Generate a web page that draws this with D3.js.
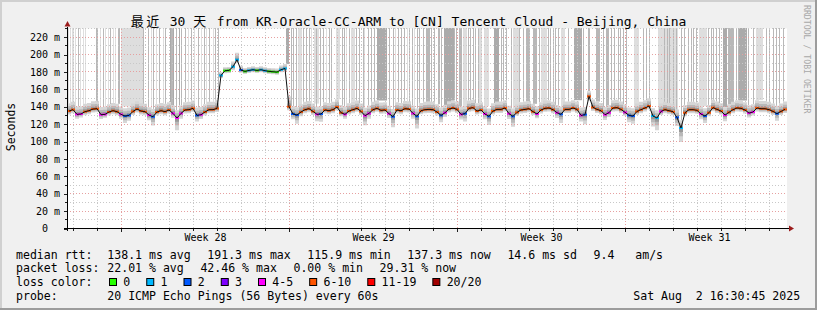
<!DOCTYPE html>
<html>
<head>
<meta charset="utf-8">
<script src="https://cdn.jsdelivr.net/npm/d3@7"></script>
<style>
body { margin: 0; background: #f0f0f0; }
svg { display: block; }
text { font-family: "DejaVu Sans Mono", "Noto Sans CJK SC", monospace; white-space: pre; }
</style>
</head>
<body>
<div id="frame"></div>
<script>
// ---- data (one value per 4 hour step, 30 days) ----
const stepHours = 4;

// median rtt in ms
const median = [
  135.0,136.6,131.2,131.6,134.3,135.4,137.3,137.7,130.8,131.2,
  133.9,135.4,134.3,131.2,129.3,130.0,134.6,137.3,135.0,134.3,
  130.4,128.5,133.9,135.4,134.3,136.2,132.3,127.0,132.3,136.2,
  136.6,138.1,130.0,130.8,133.9,136.6,136.6,138.0,176.0,181.4,
  181.7,186.0,194.0,182.1,180.6,
  181.7,182.5,181.7,182.5,181.4,180.6,180.2,179.8,182.5,184.0,
  140.0,131.6,130.4,133.9,136.6,137.7,134.6,131.2,131.6,136.2,
  135.4,136.6,139.6,133.1,131.2,135.0,136.6,138.1,134.6,129.7,
  132.3,136.6,138.1,135.8,136.2,132.0,128.5,136.2,135.4,137.7,
  137.3,132.3,128.9,135.4,136.6,
  136.9,136.6,133.9,130.0,133.1,137.3,138.5,136.9,131.2,132.0,
  138.1,138.9,135.0,136.2,131.6,128.9,135.0,136.9,136.9,138.5,
  132.0,128.9,133.5,136.2,136.9,137.7,134.3,131.6,136.2,138.1,
  138.5,136.6,133.1,131.2,136.9,136.9,138.5,136.9,130.0,130.8,
  151.9,139.2,136.9,135.4,130.8,
  133.1,138.5,138.9,136.9,133.5,130.0,129.3,134.6,136.6,138.5,
  140.8,129.3,127.0,134.6,136.6,135.4,134.3,127.7,115.5,133.1,
  136.6,136.6,135.8,131.6,129.3,133.1,138.9,136.9,135.0,130.4,
  133.5,136.6,138.5,138.1,136.2,132.7,133.9,138.5,137.7,137.7,
  136.6,134.6,132.0,134.6,136.9
];

// loss bucket index into lossNames
const lossBucket = [
  5,5,4,4,5,5,5,5,4,4, 5,5,5,4,2,2,5,5,5,5, 4,2,5,5,5,5,4,4,4,5, 5,5,2,4,5,5,5,5,1,0, 0,1,1,2,0,
  1,1,0,1,1,0,0,0,1,1, 5,2,2,5,5,5,5,4,2,5, 5,5,5,5,4,5,5,5,5,4, 4,5,5,5,5,4,2,5,5,5, 5,4,2,5,5,
  5,5,5,2,4,5,5,5,4,2, 5,5,5,5,4,2,5,5,5,5, 4,2,5,5,5,5,5,4,5,5, 5,5,4,2,5,5,5,5,4,2, 5,5,5,5,4,
  4,5,5,5,4,2,2,5,5,5, 5,1,1,4,5,5,5,2,1,5, 5,5,5,4,2,5,5,5,5,4, 5,5,5,5,5,4,4,5,5,5, 5,5,2,5,5
];

// smoke spread below / above the median (ms)
const smokeDown = [
  4,4,5,4,4,4,4,4,5,4, 4,4,4,5,8,6,4,4,4,4, 6,10,4,4,4,4,5,14,6,4, 4,4,7,5,4,4,4,4,3,3, 3,4,4,3,3,
  3,3,3,3,3,3,3,3,3,3, 4,6,10,5,4,4,4,8,9,4, 4,4,4,4,5,4,4,4,4,11, 6,4,4,4,4,5,12,4,4,4, 4,6,14,4,4,
  4,4,4,8,5,4,4,4,6,9, 4,4,4,4,6,10,4,4,4,4, 6,12,4,4,4,4,4,5,4,4, 4,4,6,10,4,4,4,4,7,11, 5,4,4,4,6,
  5,4,4,4,4,8,9,4,4,4, 4,12,14,4,4,4,4,10,16,4, 4,4,4,6,8,4,4,4,4,7, 4,4,4,4,4,5,4,4,4,4, 4,4,8,4,4
];
const smokeUp = [
  9,9,9,9,9,9,9,9,9,9, 9,9,9,9,9,9,9,9,9,9, 9,9,9,9,9,9,9,9,9,9, 9,9,9,9,9,9,9,10,4,4, 4,6,8,5,4,
  4,4,4,4,4,4,4,4,5,5, 12,9,9,9,9,9,9,9,9,9, 9,9,9,9,9,9,9,9,9,9, 9,9,9,9,9,9,9,9,9,9, 9,9,9,9,9,
  9,9,9,9,9,9,9,9,9,9, 9,9,9,9,9,9,9,9,9,9, 9,9,9,9,9,9,9,9,9,9, 9,9,9,9,9,9,9,9,9,9, 6,9,9,9,9,
  9,9,9,9,9,9,9,9,9,9, 9,9,9,9,9,9,9,9,9,9, 9,9,9,9,9,9,9,9,9,9, 9,9,9,9,9,9,9,9,9,9, 9,9,9,9,9
];

// smoke columns running off the top: [start hour, width in hours, shade 1..3]
const spikes = [
  [1,1,1],[3,1,1],[5,2,1],[8,1,1],[11,1,2],[13,1,1],[16,1,1],[18,1,1],
  [29,2,2],[33,1,1],[36,1,2],[38,1,1],[41,1,1],[43,1,2],[46,1,1],[48,1,1],[51,2,2],
  [54,23,1],[76,1,2],[81,1,2],[84,1,1],[86,1,2],[89,1,1],[92,1,2],[96,1,1],[98,1,2],
  [103,1,3],[104,2,2],[106,1,3],[109,1,2],[112,1,3],[114,1,2],
  [118,1,2],[121,1,1],[124,1,2],[127,1,1],[131,1,2],[134,1,1],[137,1,2],[139,1,1],
  [142,1,2],[146,1,1],[148,1,2],[151,1,2],
  [219,3,3],[224,1,2],[226,1,2],[229,1,2],[231,4,1],[236,1,2],[239,1,2],[242,1,2],
  [244,1,1],[247,5,1],[249,1,2],[253,1,2],[256,1,2],[259,1,1],[262,1,2],[264,1,2],
  [269,4,1],[275,1,2],[277,1,2],[279,1,1],[282,1,2],[284,4,1],[289,1,2],[292,1,2],
  [296,1,2],[297,1,1],[301,1,2],[304,1,2],[307,1,2],[310,10,3],[322,1,2],[326,1,2],
  [328,1,1],[331,1,2],[334,1,2],[337,1,2],[340,1,1],[342,1,2],[345,1,2],[347,1,1],
  [350,1,2],[352,1,2],[356,1,2],[359,4,2],
  [364,1,2],[367,1,2],[371,2,2],[374,1,2],[377,10,3],[387,1,2],[389,1,2],[392,3,2],
  [396,4,1],[401,1,2],[403,1,2],[406,1,2],[408,1,2],[411,1,2],[412,3,1],[417,5,1],
  [427,5,3],[434,1,2],[436,1,2],[439,1,2],[444,1,2],[446,6,1],[452,1,2],[456,1,2],
  [459,4,2],[466,4,2],[472,1,2],[474,6,1],[481,1,2],[483,1,2],[486,1,2],[488,1,2],
  [491,1,2],[494,4,1],[501,1,2],[507,8,3],[516,1,2],[521,2,2],[529,4,2],[536,1,2],
  [539,3,2],[544,1,2],[547,1,2],[551,1,2],[553,1,2],[556,1,2],[559,1,2],[567,5,1],
  [576,1,2],[579,1,2],[582,1,2],[591,20,1],[597,1,2],[600,1,2],[602,1,2],[606,1,2],
  [609,1,2],[614,1,2],[617,1,2],[621,1,2],[624,1,2],[626,1,2],[629,1,2],[632,8,1],
  [641,1,2],[644,1,2],[646,1,2],[649,1,2],[652,1,2],[656,4,3],[661,6,2],[669,1,2],
  [671,1,2],[672,8,3],[681,1,2],[686,1,2],[689,7,1],[699,1,2],[702,1,2],[706,1,2],
  [709,1,2],[712,1,2],[716,1,2]
];

// axes
const yTicks = [0, 20, 40, 60, 80, 100, 120, 140, 160, 180, 200, 220];
const weekLabels = ['Week 28', 'Week 29', 'Week 30', 'Week 31'];
const weekStartHours = [54, 222, 390, 558];

// legend
const lossNames = ['0', '1', '2', '3', '4-5', '6-10', '11-19', '20/20'];
const lossColors = ['#26ff00', '#00b8ff', '#0059ff', '#7e00ff', '#ff00ff', '#ff5500', '#ff0000', '#a10000'];
const rttStats = ['138.1 ms avg', '191.3 ms max', '115.9 ms min', '137.3 ms now', '14.6 ms sd', '9.4   am/s'];
const lossStats = ['22.01 % avg', '42.46 % max', '0.00 % min', '29.31 % now'];
const probeText = '20 ICMP Echo Pings (56 Bytes) every 60s';
const stampText = 'Sat Aug  2 16:30:45 2025';
const titleText = '最近 30 天 from KR-Oracle-CC-ARM to [CN] Tencent Cloud - Beijing, China';

// ---- layout ----
const W = 817, H = 310;
const plot = { left: 67, right: 787, top: 28.5, bottom: 228.5 };
const n = median.length;

const x = d3.scaleLinear().domain([0, n * stepHours]).range([plot.left, plot.right]);
const y = d3.scaleLinear().domain([0, 229.9]).range([plot.bottom, plot.top]);

const svg = d3.select('#frame').append('svg')
    .attr('width', W)
    .attr('height', H);

//background with rrdtool style frame
svg.append('rect').attr('width', W).attr('height', H).attr('fill', '#f0f0f0');
svg.append('rect').attr('width', W).attr('height', 2).attr('fill', '#d0d0d0');
svg.append('rect').attr('width', 2).attr('height', H).attr('fill', '#d0d0d0');
svg.append('rect').attr('y', H - 2).attr('width', W).attr('height', 2).attr('fill', '#9c9c9c');
svg.append('rect').attr('x', W - 2).attr('width', 2).attr('height', H).attr('fill', '#9c9c9c');

//canvas
svg.append('rect')
    .attr('x', plot.left).attr('y', plot.top)
    .attr('width', plot.right - plot.left).attr('height', plot.bottom - plot.top)
    .attr('fill', '#ffffff');

svg.append('clipPath').attr('id', 'clip')
    .append('rect')
    .attr('x', plot.left).attr('y', plot.top - 0.5)
    .attr('width', plot.right - plot.left).attr('height', plot.bottom - plot.top);

const g = svg.append('g').attr('clip-path', 'url(#clip)');

const at = i => Math.min(i, n - 1);

//spikes going off the top
const shade = { 1: '#dedede', 2: '#b8b8b8', 3: '#ababab' };
g.selectAll('rect.spike')
    .data(spikes.slice().sort((a, b) => a[2] - b[2]))
    .enter()
    .append('rect')
    .attr('class', 'spike')
    .attr('x', d => x(d[0]))
    .attr('width', d => x(d[0] + d[1]) - x(d[0]))
    .attr('y', plot.top - 1)
    .attr('height', d => {
        const i = at(Math.floor(d[0] / stepHours));
        return y(median[i] + smokeUp[i]) - plot.top + 1;
    })
    .attr('fill', d => shade[d[2]]);

//smoke layers, lightest first
[[1, '#d6d6d6'], [0.6, '#b9b9b9'], [0.3, '#999999']].forEach(([k, col]) => {
    const area = d3.area()
        .curve(d3.curveStepAfter)
        .x(i => x(i * stepHours))
        .y0(i => y(median[at(i)] - smokeDown[at(i)] * k))
        .y1(i => y(median[at(i)] + smokeUp[at(i)] * k));
    g.append('path')
        .datum(d3.range(n + 1))
        .attr('d', area)
        .attr('fill', col);
});

//grid
const grid = g.append('g').attr('shape-rendering', 'crispEdges').attr('stroke-dasharray', '1,2');
const yMinor = yTicks.map(v => v + 10);
grid.selectAll('line.hmin')
    .data(yMinor)
    .enter().append('line')
    .attr('x1', plot.left).attr('x2', plot.right)
    .attr('y1', d => Math.floor(y(d)) + 0.5).attr('y2', d => Math.floor(y(d)) + 0.5)
    .attr('stroke', '#c8c8c8');
const dayHours = d3.range(6, n * stepHours, 24);
grid.selectAll('line.vmin')
    .data(dayHours.filter(h => !weekStartHours.includes(h)))
    .enter().append('line')
    .attr('x1', d => x(d) + 0.5).attr('x2', d => x(d) + 0.5)
    .attr('y1', plot.top).attr('y2', plot.bottom)
    .attr('stroke', '#c8c8c8');
grid.selectAll('line.hmaj')
    .data(yTicks.slice(1))
    .enter().append('line')
    .attr('x1', plot.left).attr('x2', plot.right)
    .attr('y1', d => Math.floor(y(d)) + 0.5).attr('y2', d => Math.floor(y(d)) + 0.5)
    .attr('stroke', '#e6a0a0');
grid.selectAll('line.vmaj')
    .data(weekStartHours)
    .enter().append('line')
    .attr('x1', d => x(d) + 0.5).attr('x2', d => x(d) + 0.5)
    .attr('y1', plot.top).attr('y2', plot.bottom)
    .attr('stroke', '#e6a0a0');

//loss coloured band under the median
g.selectAll('rect.loss')
    .data(median)
    .enter()
    .append('rect')
    .attr('x', (d, i) => x(i * stepHours))
    .attr('width', x(stepHours) - x(0))
    .attr('y', d => y(d) - 1)
    .attr('height', 2)
    .attr('fill', (d, i) => lossColors[lossBucket[i]]);

//median line
g.append('path')
    .datum(median)
    .attr('d', d3.line().x((d, i) => x(i * stepHours + stepHours / 2)).y(d => y(d)))
    .attr('fill', 'none')
    .attr('stroke', '#101010')
    .attr('stroke-width', 1);

//y axis
const yAxis = svg.append('g')
    .attr('transform', 'translate(' + plot.left + ',0)')
    .call(d3.axisLeft(y)
        .tickValues(yTicks)
        .tickFormat(d => d ? d + ' m' : '0  ')
        .tickSize(3)
        .tickPadding(4));
yAxis.select('.domain').remove();
yAxis.selectAll('text').style('font-size', '10px').attr('fill', '#000');
yAxis.selectAll('line').attr('stroke', '#202020').attr('shape-rendering', 'crispEdges');
svg.append('g').selectAll('line')
    .data(yMinor)
    .enter().append('line')
    .attr('x1', plot.left - 2).attr('x2', plot.left)
    .attr('y1', d => Math.floor(y(d)) + 0.5).attr('y2', d => Math.floor(y(d)) + 0.5)
    .attr('stroke', '#202020').attr('shape-rendering', 'crispEdges');

//x axis
const xAxis = svg.append('g')
    .attr('transform', 'translate(0,' + plot.bottom + ')')
    .call(d3.axisBottom(x)
        .tickValues(weekStartHours.map(h => h + 84))
        .tickFormat((d, i) => weekLabels[i])
        .tickSize(0)
        .tickPadding(5));
xAxis.select('.domain').remove();
xAxis.selectAll('text').style('font-size', '10px').attr('fill', '#000');
svg.append('g').selectAll('line')
    .data(dayHours)
    .enter().append('line')
    .attr('x1', d => x(d) + 0.5).attr('x2', d => x(d) + 0.5)
    .attr('y1', plot.bottom).attr('y2', d => plot.bottom + (weekStartHours.includes(d) ? 3 : 2))
    .attr('stroke', '#202020').attr('shape-rendering', 'crispEdges');

//axis lines and arrows
svg.append('line')
    .attr('x1', plot.left - 3).attr('x2', plot.right + 2)
    .attr('y1', plot.bottom).attr('y2', plot.bottom)
    .attr('stroke', '#000').attr('shape-rendering', 'crispEdges');
svg.append('line')
    .attr('x1', plot.left + 0.5).attr('x2', plot.left + 0.5)
    .attr('y1', plot.bottom + 2).attr('y2', plot.top - 2)
    .attr('stroke', '#000').attr('shape-rendering', 'crispEdges');
svg.append('path')
    .attr('d', `M${plot.right + 2},${plot.bottom - 3}L${plot.right + 7},${plot.bottom}L${plot.right + 2},${plot.bottom + 3}Z`)
    .attr('fill', '#9b1c1c');
svg.append('path')
    .attr('d', `M${plot.left - 2.5},${plot.top - 2}L${plot.left + 0.5},${plot.top - 7.5}L${plot.left + 3.5},${plot.top - 2}Z`)
    .attr('fill', '#9b1c1c');

//title, CJK glyphs take two mono cells
const title = svg.append('text')
    .attr('x', 408.5).attr('y', 26)
    .attr('text-anchor', 'middle')
    .style('font-size', '13px');
titleText.match(/[\u3000-\u9fff]+|[^\u3000-\u9fff]+/g).forEach(part => {
    const cjk = /[\u3000-\u9fff]/.test(part);
    title.append('tspan')
        .style('letter-spacing', cjk ? '2.66px' : null)
        .text(part);
});

//vertical labels
svg.append('text')
    .attr('transform', 'translate(15,127) rotate(-90)')
    .attr('text-anchor', 'middle')
    .style('font-size', '11.5px')
    .text('Seconds');
svg.append('text')
    .attr('transform', 'translate(804,5) rotate(90)')
    .style('font-size', '8.2px')
    .attr('fill', '#a8a8a8')
    .text('RRDTOOL / TOBI OETIKER');

//legend, items flow with a fixed gap like rrdtool
const legend = svg.append('g').style('font-size', '11.55px');
const row = (txt, xx, yy) => legend.append('text').attr('x', xx).attr('y', yy).text(txt);
const rows = [258.5, 272.3, 286, 299.8];
const gap = 16.6;
const flow = (items, yy) => {
    let xx = 107.3;
    items.forEach(t => {
        const el = row(t, xx, yy);
        xx += el.node().getComputedTextLength() + gap;
    });
};

row('median rtt:', 16, rows[0]);
flow(rttStats, rows[0]);
row('packet loss:', 16, rows[1]);
flow(lossStats, rows[1]);
row('loss color:', 16, rows[2]);
let bx = 109;
lossNames.forEach((name, i) => {
    legend.append('rect')
        .attr('x', bx + 0.5).attr('y', rows[2] - 7.5)
        .attr('width', 7).attr('height', 7)
        .attr('fill', lossColors[i])
        .attr('stroke', '#000');
    const t = row(name, bx + 14.3, rows[2]);
    bx = bx + 14.3 + t.node().getComputedTextLength() + 16;
});
row('probe:', 16, rows[3]);
row(probeText, 107.3, rows[3]);
row(stampText, 633.3, rows[3]);
</script>
</body>
</html>
